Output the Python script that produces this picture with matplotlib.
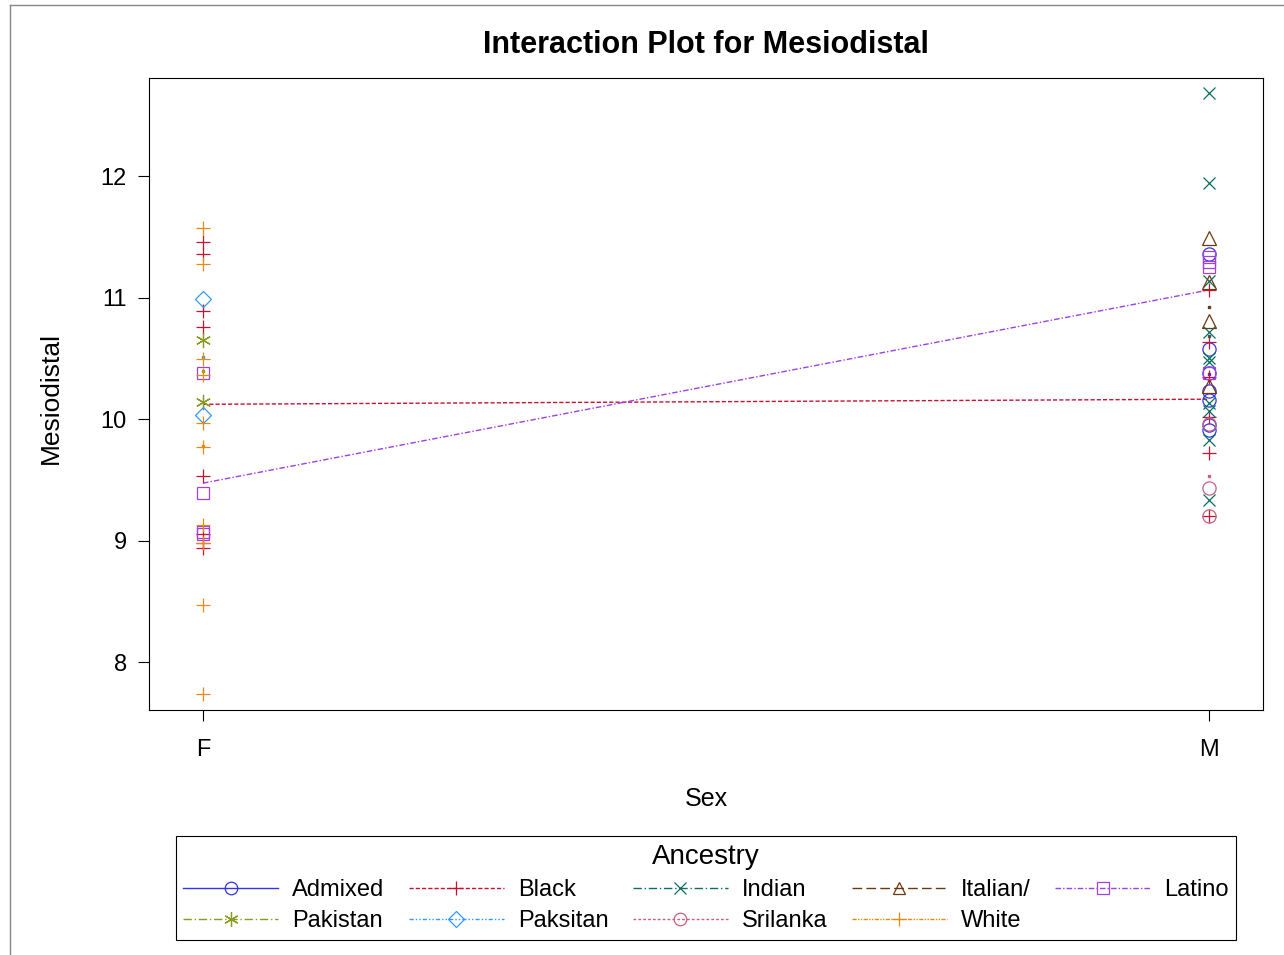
import matplotlib
matplotlib.use("Agg")
import matplotlib.pyplot as plt
from matplotlib.lines import Line2D
import numpy as np

plt.rcParams['font.family'] = ['Liberation Sans', 'DejaVu Sans']

# Mesiodistal measurements by ancestry and sex
sexes = ["F", "M"]
groups = ["Admixed", "Black", "Indian", "Italian/", "Latino",
          "Pakistan", "Paksitan", "Srilanka", "White"]

admixed_f = []
admixed_m = [11.36, 10.58, 10.38, 10.23, 10.16, 9.95, 9.91]
black_f = [11.46, 11.36, 10.89, 10.76, 9.53, 9.05, 8.98, 8.94]
black_m = [11.06, 10.63, 10.35, 10.02, 9.72, 9.20]
indian_f = []
indian_m = [12.68, 11.94, 11.14, 10.72, 10.50, 10.47, 10.13, 10.07, 9.83, 9.33]
italian_f = []
italian_m = [11.49, 11.13, 10.81, 10.27]
latino_f = [10.38, 9.39, 9.07, 9.05]
latino_m = [11.33, 11.29, 11.25, 10.38]
pakistan_f = [10.65, 10.14]
pakistan_m = []
paksitan_f = [10.99, 10.03]
paksitan_m = []
srilanka_f = []
srilanka_m = [9.96, 9.43, 9.20]
white_f = [11.57, 11.28, 10.49, 10.36, 9.97, 9.77, 9.13, 8.98, 8.47, 7.74]
white_m = []

values = {
    "Admixed": (admixed_f, admixed_m),
    "Black": (black_f, black_m),
    "Indian": (indian_f, indian_m),
    "Italian/": (italian_f, italian_m),
    "Latino": (latino_f, latino_m),
    "Pakistan": (pakistan_f, pakistan_m),
    "Paksitan": (paksitan_f, paksitan_m),
    "Srilanka": (srilanka_f, srilanka_m),
    "White": (white_f, white_m),
}

styles = {
    "Admixed": dict(color="#3333ee", ls="-", marker="o", ms=9.5),
    "Black": dict(color="#c81032", ls=(0, (3, 1.5)), marker="+", ms=10),
    "Indian": dict(color="#0b6e60", ls=(0, (6, 2, 1, 2)), marker="x", ms=9),
    "Italian/": dict(color="#6b3a10", ls=(0, (7, 3)), marker="^", ms=9.5),
    "Latino": dict(color="#a040e0", ls=(0, (4, 1.5, 1, 1.5)), marker="s", ms=9),
    "Pakistan": dict(color="#8a9a22", ls=(0, (6, 2, 1, 2)), marker=(6, 2, 0), ms=11),
    "Paksitan": dict(color="#3399ff", ls=(0, (3, 1.5, 1, 1.5, 1, 1.5)), marker="D", ms=8.5),
    "Srilanka": dict(color="#c8607f", ls=(0, (2, 1.5)), marker="o", ms=9.5),
    "White": dict(color="#e68a10", ls=(0, (3, 1, 1, 1, 1, 1)), marker="+", ms=10),
}

fig = plt.figure(figsize=(12.84, 9.55), dpi=100)
ax = fig.add_axes([149 / 1284, 1 - 710 / 955, 1114 / 1284, 632 / 955])

handles = []
for g in groups:
    st = styles[g]
    xs, ys = [], []
    means_x, means_y = [], []
    for i, vals in enumerate(values[g]):
        if len(vals) == 0:
            continue
        xs += [i + 1] * len(vals)
        ys += vals
        means_x.append(i + 1)
        means_y.append(np.mean(vals))
    ax.plot(xs, ys, ls="none", marker=st["marker"], ms=st["ms"],
            mfc="none", mec=st["color"], mew=0.9, zorder=3)
    if len(means_x) > 1:
        ax.plot(means_x, means_y, color=st["color"], ls=st["ls"], lw=1.0, zorder=2)
    else:
        ax.plot(means_x, means_y, ls="none", marker="s", ms=1.8,
                mfc=st["color"], mec=st["color"], zorder=2)
    handles.append(Line2D([0], [0], color=st["color"], ls=st["ls"], lw=1.0,
                          marker=st["marker"], ms=st["ms"] * 0.95, mfc="none",
                          mec=st["color"], mew=0.9, label=g))

ax.set_xlim(1 - 54 / 1006, 2 + 54 / 1006)
ax.set_ylim(7.605, 12.807)
ax.set_xticks([1, 2])
ax.set_xticklabels(sexes)
ax.set_yticks([8, 9, 10, 11, 12])
ax.tick_params(axis="y", direction="out", length=8, width=0.8, labelsize=17, pad=8)
ax.tick_params(axis="x", direction="out", length=8, width=0.8, labelsize=17, pad=13)
for s in ax.spines.values():
    s.set_linewidth(0.8)

ax.set_ylabel("Mesiodistal", fontsize=19)
ax.yaxis.set_label_coords(-0.077, 0.494)
ax.set_xlabel("Sex", fontsize=18)
ax.xaxis.set_label_coords(0.5, -0.122)

fig.text(706 / 1284, 1 - 45 / 955, "Interaction Plot for Mesiodistal",
         fontweight="bold", fontsize=22, ha="center", va="center")

# legend ordered column by column so rows read across
order = ["Admixed", "Pakistan", "Black", "Paksitan", "Indian",
         "Srilanka", "Italian/", "White", "Latino"]
hmap = {h.get_label(): h for h in handles}
leg = fig.legend([hmap[k] for k in order], order, loc="center",
                 bbox_to_anchor=(706 / 1284, 1 - 888 / 955), ncol=5,
                 fontsize=17, title="Ancestry", title_fontsize=20,
                 handlelength=4.0, handletextpad=0.6, columnspacing=1.05,
                 labelspacing=0.4, borderpad=0.3, fancybox=False,
                 edgecolor="black", framealpha=1)
leg.get_frame().set_linewidth(0.8)

# outer graph frame
fig.add_artist(Line2D([10 / 1284, 10 / 1284], [0, 1 - 5 / 955],
                      transform=fig.transFigure, color="#888888", lw=1))
fig.add_artist(Line2D([10 / 1284, 1], [1 - 5 / 955, 1 - 5 / 955],
                      transform=fig.transFigure, color="#888888", lw=1))

fig.savefig("out.png", dpi=100)
